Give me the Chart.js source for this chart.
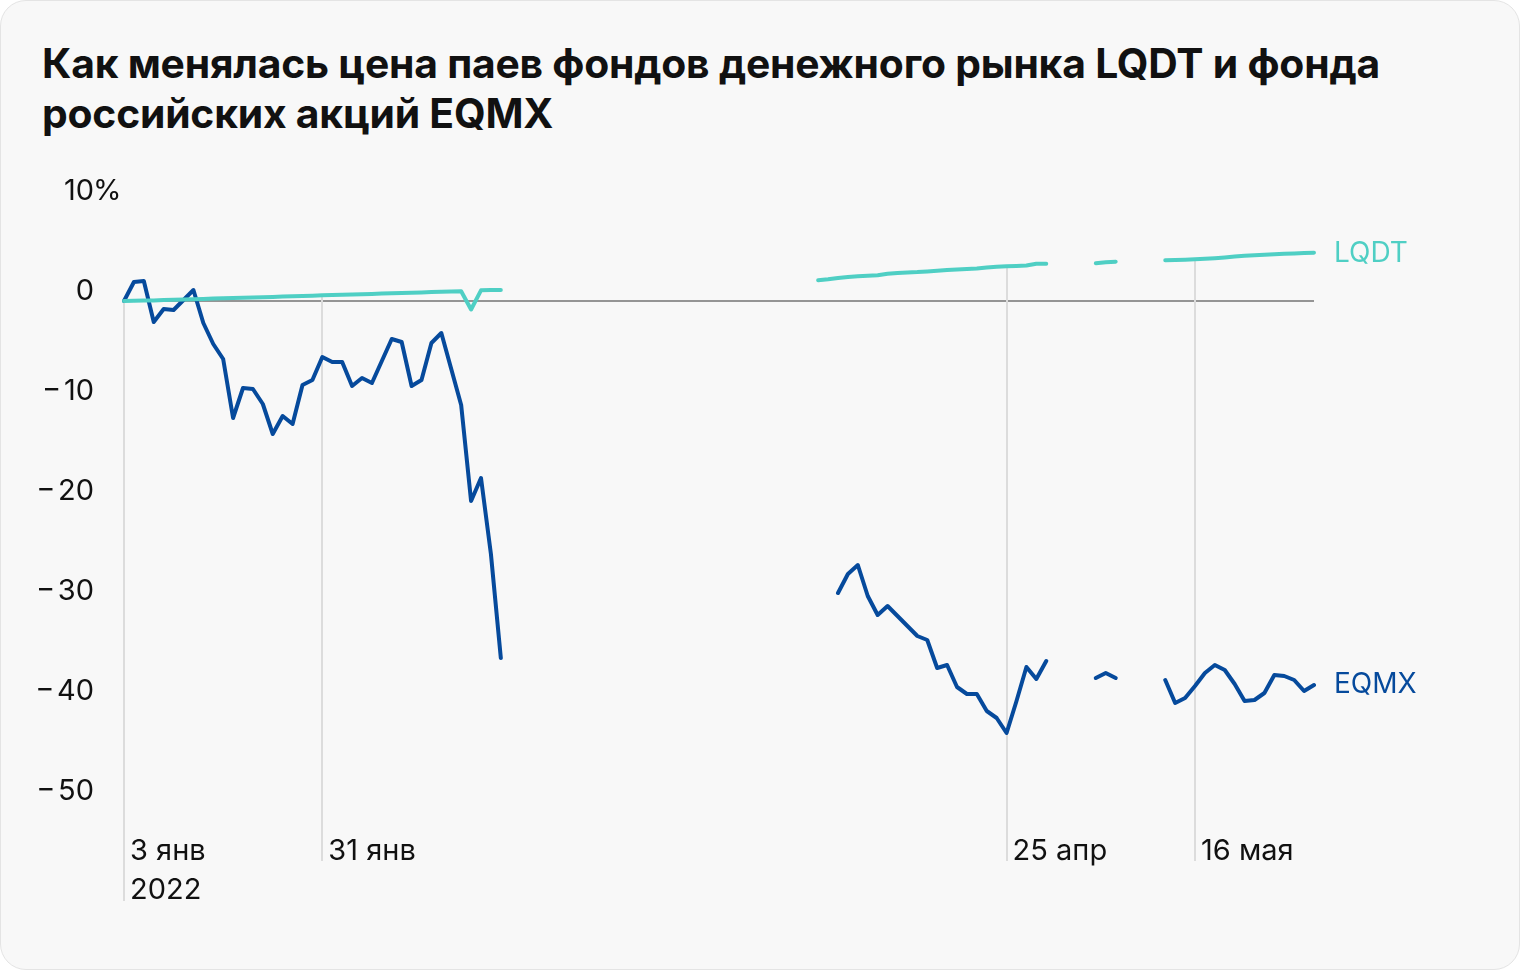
<!DOCTYPE html>
<html lang="ru">
<head>
<meta charset="utf-8">
<script src="https://cdn.jsdelivr.net/npm/chart.js@4.4.0/dist/chart.umd.min.js"></script>
<style>
  html, body { margin: 0; padding: 0; background: #ffffff; }
  .card {
    position: absolute; left: 0; top: 0;
    width: 1518px; height: 968px;
    background: #f8f8f8;
    border: 1px solid #e4e4e4;
    border-radius: 26px;
    overflow: hidden;
  }
  .title {
    position: absolute; left: 41px; top: 37px;
    font-family: Inter, "Noto Sans", sans-serif;
    font-weight: 700; font-size: 40.8px; line-height: 50px;
    color: #111111; letter-spacing: -0.2px;
  }
  #chart { position: absolute; left: 0; top: 0; }
</style>
</head>
<body>
<div class="card">
  <div class="title">Как менялась цена паев фондов денежного рынка LQDT и фонда<br>российских акций EQMX</div>
  <canvas id="chart" width="1520" height="970"></canvas>
</div>
<script>
// Trading days, 3 Jan 2022 .. end of May 2022 (only labelled days carry text)
const dayLabels = [
  ['3 янв', '2022'], '', '', '', '', '', '', '', '', '', '', '', '', '', '', '', '', '', '', '',
  '31 янв', '', '', '', '', '', '', '', '', '', '', '', '', '', '', '', '', '', '', '',
  '', '', '', '', '', '', '', '', '', '', '', '', '', '', '', '', '', '', '', '',
  '', '', '', '', '', '', '', '', '', '', '', '', '', '', '', '', '', '', '', '',
  '', '', '', '', '', '', '', '', '', '25 апр', '', '', '', '', '', '', '', '', '', '',
  '', '', '', '', '', '', '', '', '16 мая', '', '', '', '', '', '', '', '', '', '', '',
  ''
];

// Change of unit price since 3 Jan 2022, %
const lqdtValues = [
  0.00, 0.02, 0.04, 0.06, 0.09, 0.12, 0.15, 0.18, 0.21, 0.24,
  0.27, 0.30, 0.33, 0.36, 0.38, 0.41, 0.44, 0.47, 0.50, 0.53,
  0.57, 0.60, 0.62, 0.65, 0.68, 0.71, 0.74, 0.77, 0.80, 0.83,
  0.86, 0.89, 0.92, 0.95, 0.98, -0.85, 1.07, 1.09, 1.10,
  null, null, null, null, null, null, null, null, null, null, null,
  null, null, null, null, null, null, null, null, null, null, null,
  null, null, null, null, null, null, null, null, null,
  2.07, 2.17, 2.30, 2.40, 2.47, 2.53, 2.58, 2.72, 2.80, 2.85,
  2.89, 2.96, 3.03, 3.10, 3.15, 3.20, 3.26, 3.35, 3.42, 3.47,
  3.50, 3.55, 3.72, 3.73,
  null, null, null, null,
  3.77, 3.87, 3.93,
  null, null, null, null,
  4.07, 4.10, 4.13, 4.17, 4.22, 4.28, 4.36, 4.45, 4.52, 4.57,
  4.62, 4.68, 4.73, 4.76, 4.80, 4.83
];

const eqmxValues = [
  0.0, 1.9, 2.0, -2.1, -0.8, -0.9, 0.1, 1.1, -2.2, -4.3,
  -5.8, -11.7, -8.7, -8.8, -10.3, -13.3, -11.5, -12.3, -8.4, -7.9,
  -5.6, -6.1, -6.1, -8.5, -7.7, -8.2, -6.0, -3.8, -4.1, -8.5,
  -7.9, -4.2, -3.2, -6.8, -10.4, -20.0, -17.7, -25.3, -35.7,
  null, null, null, null, null, null, null, null, null, null, null,
  null, null, null, null, null, null, null, null, null, null, null,
  null, null, null, null, null, null, null, null, null,
  null, null,
  -29.2, -27.3, -26.4, -29.5, -31.4, -30.5, -31.5, -32.5, -33.5, -33.9,
  -36.7, -36.4, -38.6, -39.3, -39.3, -41.0, -41.7, -43.2, -40.0, -36.6,
  -37.8, -36.0,
  null, null, null, null,
  -37.7, -37.2, -37.7,
  null, null, null, null,
  -37.9, -40.2, -39.7, -38.5, -37.2, -36.4, -36.9, -38.3, -40.0, -39.9,
  -39.2, -37.4, -37.5, -37.9, -39.0, -38.4
];

const yTicks = [10, 0, -10, -20, -30, -40, -50];

const seriesNames = ['LQDT', 'EQMX'];
const seriesColors = ['#4fcfc4', '#064a9c'];

const FONT = "Inter, 'Noto Sans', sans-serif";

/**
 * Axis decorations: y labels, drop lines under the dated ticks, series names
 */
const decorPlugin = {
  id: 'decor',
  beforeDatasetsDraw(chart) {
    const ctx = chart.ctx;
    const x = chart.scales.x;
    const y = chart.scales.y;

    // zero line
    ctx.save();
    ctx.strokeStyle = '#959595';
    ctx.lineWidth = 2;
    ctx.beginPath();
    ctx.moveTo(x.left, y.getPixelForValue(0));
    ctx.lineTo(x.right, y.getPixelForValue(0));
    ctx.stroke();

    // vertical lines under labelled days, from the upper series down to the label
    ctx.strokeStyle = '#dcdcdc';
    ctx.lineWidth = 2;
    dayLabels.forEach((lab, i) => {
      if (!lab) return;
      const px = Math.round(x.getPixelForValue(i));
      const vals = [lqdtValues[i], eqmxValues[i]].filter(v => v !== null);
      const top = y.getPixelForValue(Math.max(...vals));
      const bottom = Array.isArray(lab) ? 900 : 860;
      ctx.beginPath();
      ctx.moveTo(px, top);
      ctx.lineTo(px, bottom);
      ctx.stroke();
    });
    ctx.restore();
  },
  afterDraw(chart) {
    const ctx = chart.ctx;
    const x = chart.scales.x;
    const y = chart.scales.y;

    ctx.save();
    ctx.font = '29px ' + FONT;
    ctx.fillStyle = '#111111';
    ctx.textBaseline = 'middle';
    yTicks.forEach(v => {
      const py = y.getPixelForValue(v) - 10;
      const txt = v < 0 ? '\u2212\u200A' + Math.abs(v) : String(v);
      ctx.textAlign = 'right';
      ctx.fillText(txt, 93, py);
      if (v === 10) {
        ctx.textAlign = 'left';
        ctx.fillText('%', 92, py);
      }
    });

    // series names at the right end of each line
    const last = dayLabels.length - 1;
    ctx.textAlign = 'left';
    ctx.font = '28px ' + FONT;
    ctx.fillStyle = seriesColors[0];
    ctx.fillText(seriesNames[0], x.right + 20, y.getPixelForValue(lqdtValues[last]) + 1);
    ctx.fillStyle = seriesColors[1];
    ctx.fillText(seriesNames[1], x.right + 20, y.getPixelForValue(eqmxValues[last]));
    ctx.restore();
  }
};

new Chart(document.getElementById('chart'), {
  type: 'line',
  data: {
    labels: dayLabels,
    datasets: [
      {
        label: seriesNames[0],
        data: lqdtValues,
        borderColor: seriesColors[0],
        borderWidth: 4,
        pointRadius: 0,
        tension: 0,
        spanGaps: false,
        borderCapStyle: 'round',
        borderJoinStyle: 'round'
      },
      {
        label: seriesNames[1],
        data: eqmxValues,
        borderColor: seriesColors[1],
        borderWidth: 4,
        pointRadius: 0,
        tension: 0,
        spanGaps: false,
        borderCapStyle: 'round',
        borderJoinStyle: 'round'
      }
    ]
  },
  options: {
    responsive: false,
    animation: false,
    layout: {
      padding: { left: 0, right: 207, top: 200, bottom: 0 }
    },
    scales: {
      x: {
        type: 'category',
        offset: false,
        grid: { display: false },
        border: { display: false },
        afterFit(scale) { scale.height = 170; },
        ticks: {
          autoSkip: false,
          maxRotation: 0,
          minRotation: 0,
          align: 'start',
          labelOffset: 6,
          padding: 23,
          color: '#111111',
          font: { size: 29, family: FONT, lineHeight: 1.35 },
          callback(value, index) { return dayLabels[index]; }
        }
      },
      y: {
        min: -50,
        max: 10,
        grid: { display: false },
        border: { display: false },
        afterFit(scale) { scale.width = 123; },
        ticks: { display: false, stepSize: 10 }
      }
    },
    plugins: {
      legend: { display: false },
      tooltip: { enabled: false }
    }
  },
  plugins: [decorPlugin]
});
</script>
</body>
</html>
